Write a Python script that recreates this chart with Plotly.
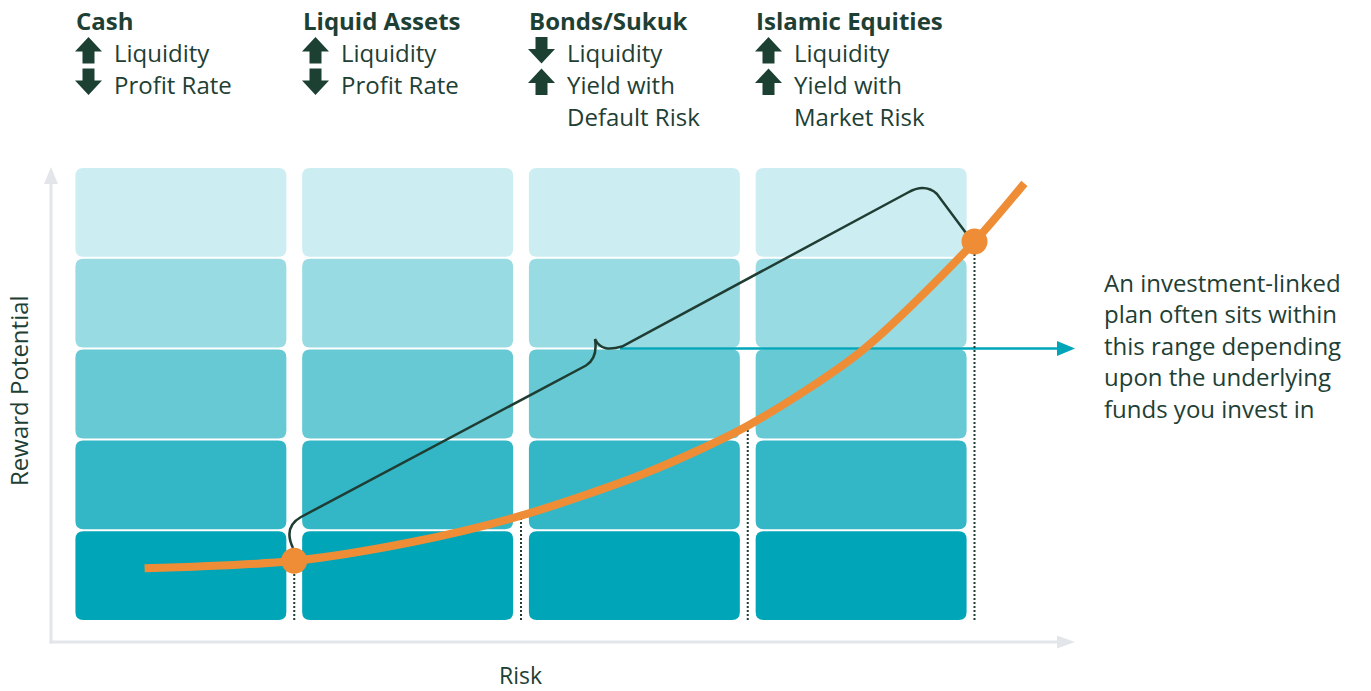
import numpy as np
import plotly.graph_objects as go

W, H = 1371, 691

# ---------------- data ----------------
categories = ["Cash", "Liquid Assets", "Bonds/Sukuk", "Islamic Equities"]
liquidity_arrow = ["up", "up", "down", "up"]
second_arrow = ["down", "down", "up", "up"]
second_text = [["Profit Rate"], ["Profit Rate"],
               ["Yield with", "Default Risk"], ["Yield with", "Market Risk"]]
reward_rows = [1, 2, 3, 4, 5]
row_colors = ["#00A5B8", "#33B7C6", "#66C9D4", "#99DBE3", "#CCEDF1"]

curve_risk = [0.34, 0.99, 1.52, 2.00, 2.55, 3.00, 3.50, 3.99, 4.22]
curve_reward = [0.58, 0.66, 0.87, 1.16, 1.63, 2.15, 2.97, 4.15, 4.82]
highlight_risk = [1, 4]
dotted_risk = [1, 2, 3, 4]
range_level = 3
note_lines = ["An investment-linked", "plan often sits within",
              "this range depending", "upon the underlying",
              "funds you invest in"]
x_title = "Risk"
y_title = "Reward Potential"

# ---------------- styles ----------------
TXT = "#1E4034"
ORANGE = "#EF8D36"
TEAL = "#00A5B8"
GREY = "#E2E5E9"
FONT = "Open Sans"

# pixel <-> data mapping (plot area covers the full page)
X0, XS = 67.5, 226.75
Y0, YS = 621.0, 90.8


def dx(p):
    return (p - X0) / XS


def dy(p):
    return (Y0 - p) / YS


fig = go.Figure()
shapes = []

# rounded boxes
inset_x = 7.9 / XS
inset_y = 1.0 / YS
rx, ry = 8 / XS, 8 / YS


def rrect(x0, x1, y0, y1):
    return (f"M{x0+rx},{y0} L{x1-rx},{y0} Q{x1},{y0} {x1},{y0+ry} "
            f"L{x1},{y1-ry} Q{x1},{y1} {x1-rx},{y1} L{x0+rx},{y1} "
            f"Q{x0},{y1} {x0},{y1-ry} L{x0},{y0+ry} Q{x0},{y0} {x0+rx},{y0} Z")


for ci, _ in enumerate(categories):
    for ri, lvl in enumerate(reward_rows):
        shapes.append(dict(type="path", xref="x", yref="y", layer="below",
                           path=rrect(ci + inset_x, ci + 1 - inset_x,
                                      lvl - 1 + inset_y, lvl - inset_y),
                           fillcolor=row_colors[ri], line=dict(width=0)))

# grey axes with arrowheads
ax_x = dx(51)
ax_y = dy(642)
shapes.append(dict(type="line", xref="x", yref="y", layer="below",
                   x0=ax_x, x1=ax_x, y0=ax_y - 1.5 / YS, y1=dy(183),
                   line=dict(color=GREY, width=3)))
shapes.append(dict(type="path", xref="x", yref="y", layer="below",
                   path=f"M{dx(44)},{dy(184)} L{dx(58)},{dy(184)} L{ax_x},{dy(167)} Z",
                   fillcolor=GREY, line=dict(width=0)))
shapes.append(dict(type="line", xref="x", yref="y", layer="below",
                   x0=ax_x - 1.5 / XS, x1=dx(1058), y0=ax_y, y1=ax_y,
                   line=dict(color=GREY, width=3)))
shapes.append(dict(type="path", xref="x", yref="y", layer="below",
                   path=f"M{dx(1057)},{dy(635.5)} L{dx(1057)},{dy(648.5)} L{dx(1075)},{ax_y} Z",
                   fillcolor=GREY, line=dict(width=0)))

# teal arrow to the note
shapes.append(dict(type="line", xref="x", yref="y", layer="below",
                   x0=dx(620), x1=dx(1060), y0=range_level, y1=range_level,
                   line=dict(color=TEAL, width=2.5)))
shapes.append(dict(type="path", xref="x", yref="y", layer="below",
                   path=(f"M{dx(1057)},{range_level + 7.5 / YS} "
                         f"L{dx(1057)},{range_level - 7.5 / YS} "
                         f"L{dx(1075)},{range_level} Z"),
                   fillcolor=TEAL, line=dict(width=0)))


def P(a, b):
    return f"{dx(a)},{dy(b)}"


# curly bracket
brace = (f"M{P(293, 548)} Q{P(283, 527)} {P(301, 517)} L{P(586, 365.5)} "
         f"Q{P(598, 358)} {P(595, 339)} "
         f"C{P(600, 350)} {P(610, 350)} {P(622, 346.5)} L{P(908, 192.5)} "
         f"Q{P(925, 183)} {P(937, 194)} L{P(966, 233)}")
shapes.append(dict(type="path", xref="x", yref="y", layer="below",
                   path=brace, line=dict(color="#1F3D33", width=2.5)))


# header arrow icons
def up_icon(L, T):
    c = L + 13.5
    return (f"M{P(c, T)} L{P(L + 27, T + 14.5)} L{P(c + 6, T + 14.5)} "
            f"L{P(c + 6, T + 26.5)} L{P(c - 6, T + 26.5)} L{P(c - 6, T + 14.5)} "
            f"L{P(L, T + 14.5)} Z")


def down_icon(L, T):
    c = L + 13.5
    return (f"M{P(c - 6, T)} L{P(c + 6, T)} L{P(c + 6, T + 12)} L{P(L + 27, T + 12)} "
            f"L{P(c, T + 26.5)} L{P(L, T + 12)} L{P(c - 6, T + 12)} Z")


col_left = [75, 302, 528, 755]
annotations = []
for ci, cat in enumerate(categories):
    L = col_left[ci]
    for d, T in [(liquidity_arrow[ci], 37), (second_arrow[ci], 68.5)]:
        shapes.append(dict(type="path", xref="x", yref="y",
                           path=(up_icon(L, T) if d == "up" else down_icon(L, T)),
                           fillcolor="#1C4133", line=dict(width=0)))
    annotations.append(dict(x=dx(L - 1), y=dy(29.5 - 9.3), xref="x", yref="y",
                            text=f"<b>{cat}</b>", showarrow=False,
                            xanchor="left", yanchor="middle",
                            font=dict(family=FONT, size=24, color=TXT)))
    lines = ["Liquidity"] + second_text[ci]
    for li, t in enumerate(lines):
        base = 62 + 32 * li
        annotations.append(dict(x=dx(L + 37), y=dy(base - 9.3), xref="x", yref="y",
                                text=t, showarrow=False,
                                xanchor="left", yanchor="middle",
                                font=dict(family=FONT, size=24, color=TXT)))

for li, t in enumerate(note_lines):
    base = 291.7 + 31.5 * li
    annotations.append(dict(x=dx(1102), y=dy(base - 9.3), xref="x", yref="y",
                            text=t, showarrow=False, xanchor="left", yanchor="middle",
                            font=dict(family=FONT, size=24, color=TXT)))

annotations.append(dict(x=dx(520), y=dy(675), xref="x", yref="y", text=x_title,
                        showarrow=False, xanchor="center", yanchor="middle",
                        font=dict(family=FONT, size=23, color=TXT)))
annotations.append(dict(x=dx(18), y=dy(391), xref="x", yref="y", text=y_title,
                        showarrow=False, xanchor="center", yanchor="middle", textangle=-90,
                        font=dict(family=FONT, size=24, color=TXT)))

# dotted drop lines
for r in dotted_risk:
    top = float(np.interp(r, curve_risk, curve_reward))
    fig.add_trace(go.Scatter(x=[r, r], y=[0.01, top], mode="lines",
                             line=dict(color="#1F3D33", width=2, dash="2px,2px"),
                             hoverinfo="skip", showlegend=False))

# orange curve
fig.add_trace(go.Scatter(x=curve_risk, y=curve_reward, mode="lines",
                         line=dict(color=ORANGE, width=8, shape="spline", smoothing=0.8),
                         hoverinfo="skip", showlegend=False))
fig.add_trace(go.Scatter(x=highlight_risk,
                         y=[float(np.interp(r, curve_risk, curve_reward)) for r in highlight_risk],
                         mode="markers", marker=dict(color=ORANGE, size=26, line=dict(width=0)),
                         hoverinfo="skip", showlegend=False))

fig.update_layout(
    width=W, height=H, margin=dict(l=0, r=0, t=0, b=0),
    paper_bgcolor="white", plot_bgcolor="white",
    xaxis=dict(range=[dx(0), dx(W)], visible=False, fixedrange=True),
    yaxis=dict(range=[dy(H), dy(0)], visible=False, fixedrange=True),
    shapes=shapes, annotations=annotations, showlegend=False,
)

fig.write_html("out.html", config={"displayModeBar": False},
               post_script="document.body.style.margin='0';")
